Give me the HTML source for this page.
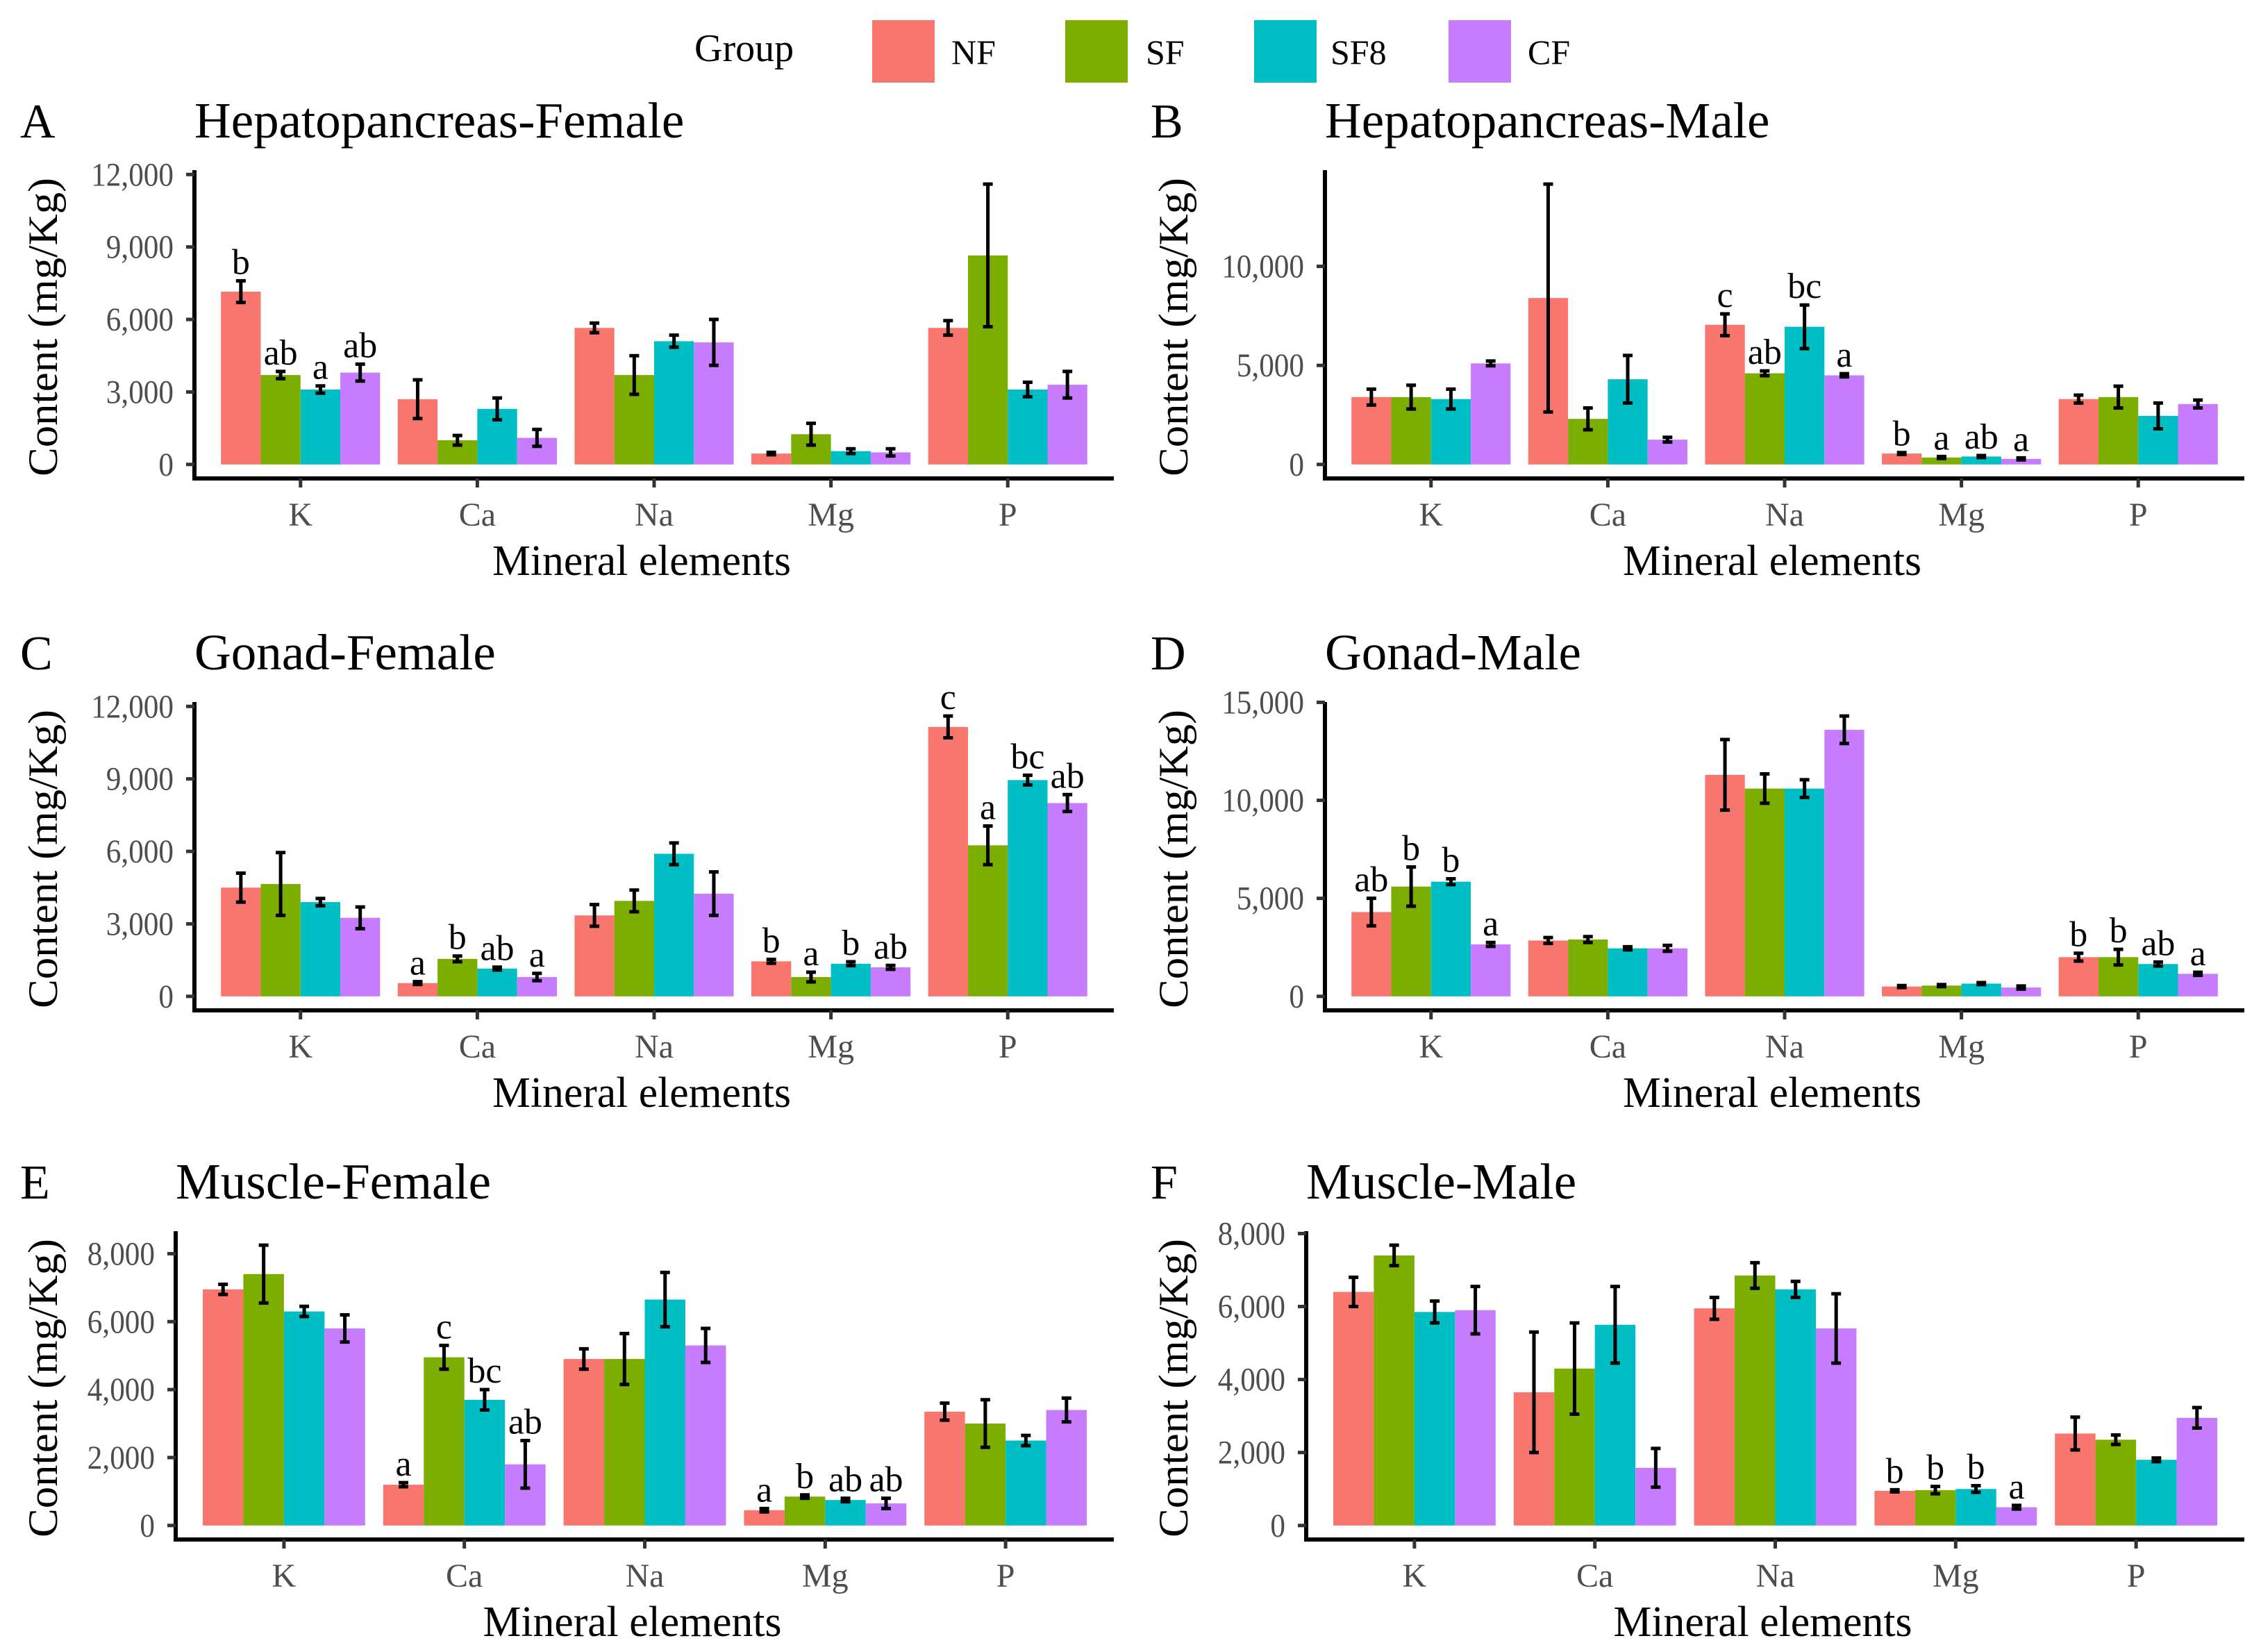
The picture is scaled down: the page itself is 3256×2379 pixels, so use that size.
<!DOCTYPE html>
<html><head><meta charset="utf-8"><style>
body{margin:0;background:#fff}
svg{display:block;font-family:"Liberation Serif",serif}
</style></head><body>
<svg id="chart" xmlns="http://www.w3.org/2000/svg" width="3256" height="2379" viewBox="0 0 3256 2379">
<rect width="3256" height="2379" fill="#fff"/>
<g id="legend">
<text x="1000" y="88" font-size="56">Group</text>
<rect x="1256" y="29" width="90" height="90" fill="#F8766D"/>
<text x="1370" y="92" font-size="50">NF</text>
<rect x="1534" y="29" width="90" height="90" fill="#7CAE00"/>
<text x="1650" y="92" font-size="50">SF</text>
<rect x="1806" y="29" width="90" height="90" fill="#00BFC4"/>
<text x="1916" y="92" font-size="50">SF8</text>
<rect x="2086" y="29" width="90" height="90" fill="#C77CFF"/>
<text x="2200" y="92" font-size="50">CF</text>
</g>
</svg>
<script>
const categories = ["K","Ca","Na","Mg","P"];
const groups = ["NF","SF","SF8","CF"];
const colors = ["#F8766D","#7CAE00","#00BFC4","#C77CFF"];
// values[category][group]
const valA = [[7150,3700,3100,3800],[2700,1000,2300,1100],[5650,3700,5100,5050],[450,1250,550,500],[5650,8650,3100,3300]];
const errA = [[450,150,150,350],[800,200,450,350],[200,800,250,950],[50,450,100,150],[300,2950,300,550]];
const letA = [["b","ab","a","ab"],["","","",""],["","","",""],["","","",""],["","","",""]];
const valB = [[3400,3400,3300,5100],[8400,2300,4300,1250],[7050,4600,6950,4500],[550,350,400,280],[3300,3400,2450,3050]];
const errB = [[400,600,500,120],[5750,550,1200,120],[550,120,1100,80],[50,50,50,50],[200,550,650,200]];
const letB = [["","","",""],["","","",""],["c","ab","bc","a"],["b","a","ab","a"],["","","",""]];
const valC = [[4500,4650,3900,3250],[550,1550,1150,800],[3350,3950,5900,4250],[1450,800,1350,1200],[11150,6250,8950,8000]];
const errC = [[600,1300,150,450],[60,120,60,150],[450,450,450,900],[80,200,80,80],[450,800,200,350]];
const letC = [["","","",""],["a","b","ab","a"],["","","",""],["b","a","b","ab"],["c","a","bc","ab"]];
const valD = [[4300,5600,5850,2650],[2850,2900,2450,2450],[11300,10600,10600,13600],[500,550,650,450],[2000,2000,1650,1150]];
const errD = [[700,1000,150,100],[150,150,80,150],[1800,750,450,700],[50,50,50,80],[200,400,100,80]];
const letD = [["ab","b","b","a"],["","","",""],["","","",""],["","","",""],["b","b","ab","a"]];
const valE = [[6950,7400,6300,5800],[1200,4950,3700,1800],[4900,4900,6650,5300],[450,850,750,650],[3350,3000,2500,3400]];
const errE = [[150,850,150,400],[60,350,300,700],[300,750,800,500],[50,50,50,150],[250,700,150,350]];
const letE = [["","","",""],["a","c","bc","ab"],["","","",""],["a","b","ab","ab"],["","","",""]];
const valF = [[6400,7400,5850,5900],[3650,4300,5500,1580],[5950,6850,6470,5400],[950,970,1000,500],[2520,2350,1800,2950]];
const errF = [[400,280,300,650],[1650,1250,1050,530],[300,350,220,950],[30,100,90,50],[450,130,50,280]];
const letF = [["","","",""],["","","",""],["","","",""],["b","b","b","a"],["","","",""]];
const ticksA = [0,3000,6000,9000,12000];
const ticksB = [0,5000,10000];
const ticksC = [0,3000,6000,9000,12000];
const ticksD = [0,5000,10000,15000];
const ticksE = [0,2000,4000,6000,8000];
const ticksF = [0,2000,4000,6000,8000];

const NS="http://www.w3.org/2000/svg";
const svg=document.getElementById('chart');
function mk(tag,attrs,parent){const e=document.createElementNS(NS,tag);for(const k in attrs)e.setAttribute(k,attrs[k]);(parent||svg).appendChild(e);return e;}
function fmt(v){return v.toLocaleString('en-US');}

const panels=[
 {id:"a",letter:"A",title:"Hepatopancreas-Female",ox:0,oy:0,ax:280,val:valA,err:errA,let:letA,ticks:ticksA},
 {id:"b",letter:"B",title:"Hepatopancreas-Male",ox:1628,oy:0,ax:280,val:valB,err:errB,let:letB,ticks:ticksB},
 {id:"c",letter:"C",title:"Gonad-Female",ox:0,oy:766,ax:280,val:valC,err:errC,let:letC,ticks:ticksC},
 {id:"d",letter:"D",title:"Gonad-Male",ox:1628,oy:766,ax:280,val:valD,err:errD,let:letD,ticks:ticksD},
 {id:"e",letter:"E",title:"Muscle-Female",ox:0,oy:1528,ax:253,val:valE,err:errE,let:letE,ticks:ticksE},
 {id:"f",letter:"F",title:"Muscle-Male",ox:1628,oy:1528,ax:253,val:valF,err:errF,let:letF,ticks:ticksF}
];

panels.forEach(p=>{
 const g=mk('g',{transform:`translate(${p.ox},${p.oy})`});
 
 
 const plotTop=245, plotBot=689, right=1604;
 let M=0; p.val.forEach((r,i)=>r.forEach((v,j)=>{M=Math.max(M,v+p.err[i][j]);}));
 const lo=-0.05*M, hi=1.05*M;
 const y=v=>plotBot-(v-lo)/(hi-lo)*(plotBot-plotTop);
 const step=(right-p.ax)/5.2;
 const cx=i=>p.ax+(i+0.6)*step;
 const bw=step*0.225;
 const lt=mk('text',{x:29,y:198,'font-size':70},g); lt.textContent=p.letter;
 
 
 const tt=mk('text',{x:p.ax,y:198,'font-size':73},g); tt.textContent=p.title;
 
 
 p.val.forEach((row,i)=>row.forEach((v,j)=>{
  const x0=cx(i)-2*bw+j*bw;
  const r=mk('rect',{x:x0,y:y(v),width:bw,height:y(0)-y(v),fill:colors[j]},g);
  
  
  const xm=x0+bw/2, e=p.err[i][j];
  const eb=mk('path',{d:`M${xm},${y(v+e)}V${y(v-e)}M${xm-7},${y(v+e)}H${xm+7}M${xm-7},${y(v-e)}H${xm+7}`,stroke:'#000','stroke-width':5,fill:'none'},g);
  
  
  const L=p.let[i][j];
  if(L){const t=mk('text',{x:xm,y:y(v+e)-10,'font-size':52,'text-anchor':'middle'},g);t.textContent=L;
   
   }
 }));
 const axl=mk('path',{d:`M${p.ax},${plotTop}V${plotBot}H${right}`,stroke:'#000','stroke-width':6,fill:'none'},g);
 
 
 p.ticks.forEach(v=>{
  mk('line',{x1:p.ax-12,x2:p.ax,y1:y(v),y2:y(v),stroke:'#333','stroke-width':5},g);
  const t=mk('text',{x:p.ax-30,y:y(v)+16,'font-size':48,'text-anchor':'end',fill:'#4d4d4d','transform-origin':`${p.ax-30}px ${y(v)}px`,transform:'scale(0.9,1)'},g);t.textContent=fmt(v);
  
  
 });
 categories.forEach((c,i)=>{
  mk('line',{x1:cx(i),x2:cx(i),y1:plotBot,y2:plotBot+13,stroke:'#333','stroke-width':5},g);
  const t=mk('text',{x:cx(i),y:757,'font-size':48,'text-anchor':'middle',fill:'#4d4d4d'},g);t.textContent=c;
  
  
 });
 const xt=mk('text',{x:(p.ax+right)/2-18,y:828,'font-size':62,'text-anchor':'middle',textLength:430,lengthAdjust:'spacingAndGlyphs'},g);xt.textContent="Mineral elements";
 
 
 const yt=mk('text',{x:0,y:0,'font-size':60,'text-anchor':'middle',transform:`translate(82,${(plotTop+plotBot)/2+4}) rotate(-90)`,textLength:430,lengthAdjust:'spacingAndGlyphs'},g);yt.textContent="Content (mg/Kg)";
 
 
});
</script>
</body></html>
